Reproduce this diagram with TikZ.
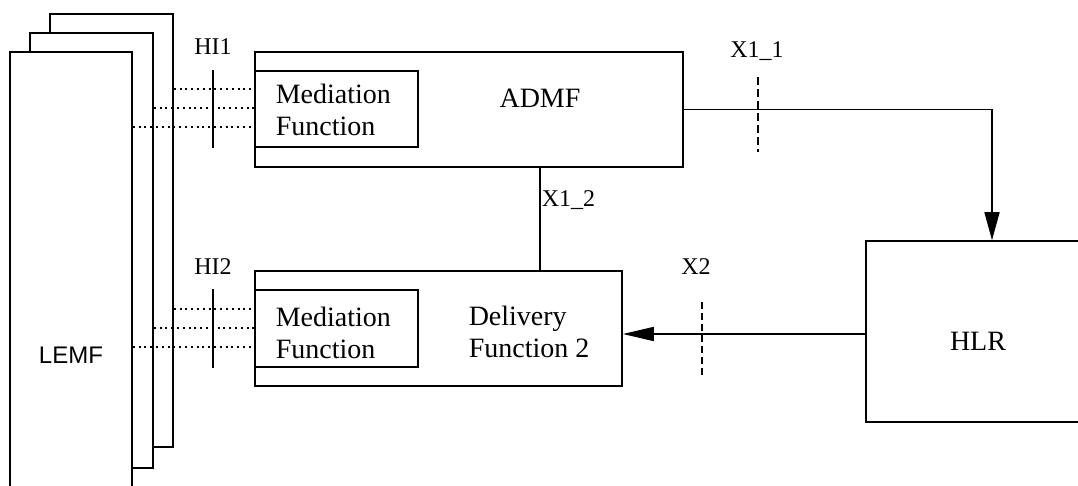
\documentclass[tikz,border=0pt]{standalone}
\usepackage{fontspec}
\setmainfont{Liberation Serif}
\newfontfamily\lemffont{Liberation Sans}
\usetikzlibrary{arrows.meta}

\tikzset{
    box/.style={draw, rectangle, fill=white, inner sep=0pt},
    boxtext/.style={inner sep=0pt, align=left, font=\fontsize{28}{32}\selectfont},
    ifacelabel/.style={inner sep=0pt, font=\fontsize{24}{26}\selectfont},
    hiline/.style={dash pattern=on 2pt off 3.8pt, line width=2pt},
    cut/.style={dash pattern=on 8pt off 4pt, line width=1.5pt}
}

\begin{document}
\begin{tikzpicture}[x=1pt, y=-1pt, line width=1.5pt]
    \useasboundingbox (0,0) rectangle (1078,486);

    % LEMF stack
    \node[box, minimum width=123pt, minimum height=433pt] (lemfc) at (111.5,230.5) {};
    \node[box, minimum width=123pt, minimum height=435pt] (lemfb) at (91.5,250.5) {};
    \node[box, minimum width=122pt, minimum height=460pt] (lemf) at (71,282) {};
    \node[inner sep=0pt, font=\lemffont\fontsize{24}{26}\selectfont] (lemftxt) at (71,355) {LEMF};

    % ADMF
    \node[box, minimum width=428pt, minimum height=115pt] (admf) at (469,109.5) {};
    \node[box, minimum width=163pt, minimum height=76pt] (medA) at (336.5,109) {};
    \node[boxtext, anchor=west] (medAtxt) at (275,110) {Mediation\\Function};
    \node[boxtext] (admftxt) at (540,98.5) {ADMF};

    % Delivery Function 2
    \node[box, minimum width=367pt, minimum height=115pt] (deliv) at (438.5,328.5) {};
    \node[box, minimum width=163pt, minimum height=77pt] (medB) at (336.5,328.5) {};
    \node[boxtext, anchor=west] (medBtxt) at (275,332.5) {Mediation\\Function};
    \node[boxtext, anchor=west] (delivtxt) at (468,331.5) {Delivery\\Function 2};

    % HLR
    \node[box, minimum width=252pt, minimum height=181pt] (hlr) at (992,331.5) {};
    \node[boxtext] (hlrtxt) at (978,341) {HLR};

    % HI1 / HI2
    \foreach \m/\yy in {medA/0, medB/219.5} {
        \draw[hiline] (lemfc.east |- 0,89+\yy) -- (\m.west |- 0,89+\yy);
        \draw[hiline] (lemfb.east |- 0,108+\yy) -- (\m.west |- 0,108+\yy);
        \draw[hiline] (lemf.east |- 0,127+\yy) -- (\m.west |- 0,127+\yy);
    }
    \coordinate (hi) at (213,0);
    \draw (hi |- medA.north) -- (hi |- medA.south);
    \draw (hi |- medB.north) -- (hi |- medB.south);
    \node[ifacelabel] (hi1) at (213,47) {HI1};
    \node[ifacelabel] (hi2) at (213,267) {HI2};

    % X1_1
    \draw[-{Triangle[length=28pt,width=15pt]}] (admf.east) -| (hlr.north);
    \coordinate (xa) at (758,77);
    \coordinate (xb) at (758,152);
    \draw[cut] (xa) -- (xb);
    \node[ifacelabel] (x11) at (757,51) {X1\_1};

    % X1_2
    \coordinate (xm) at (540,0);
    \draw (xm |- admf.south) -- (xm |- deliv.north);
    \node[ifacelabel, anchor=west] (x12) at (541,200) {X1\_2};

    % X2
    \coordinate (x2in) at ([yshift=-2.5pt]hlr.west);
    \draw[-{Triangle[length=31pt,width=14pt]}] (x2in) -- (x2in -| deliv.east);
    \coordinate (xc) at (702,302);
    \coordinate (xd) at (702,377);
    \draw[cut, line width=2.6pt, dash pattern=on 7pt off 4pt] (xc) -- (xd);
    \node[ifacelabel] (x2) at (696,267) {X2};
\end{tikzpicture}
\end{document}
